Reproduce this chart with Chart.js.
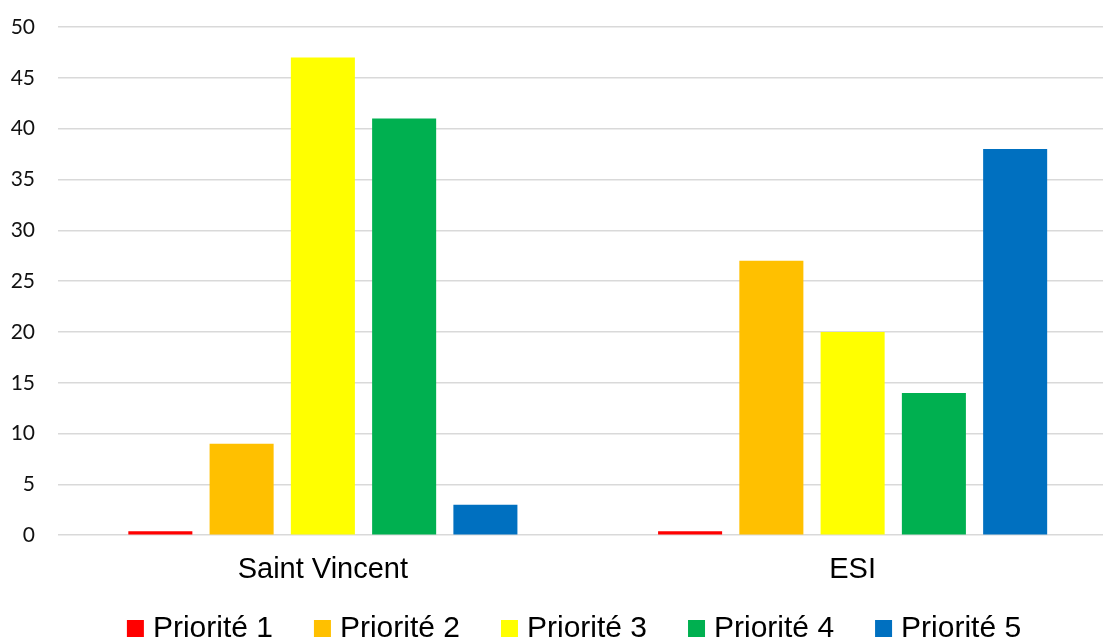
<!DOCTYPE html>
<html>
<head>
<meta charset="utf-8">
<script src="https://cdn.jsdelivr.net/npm/chart.js@4/dist/chart.umd.min.js"></script>
<style>
  html, body { margin: 0; padding: 0; background: #fff; overflow: hidden; }
  #wrap { position: relative; width: 1150px; height: 639px; }
</style>
</head>
<body>
<div id="wrap"><canvas id="chart"></canvas></div>
<script>
// Categories and series
const categories = ['Saint Vincent', 'ESI'];
const seriesNames = ['Priorité 1', 'Priorité 2', 'Priorité 3', 'Priorité 4', 'Priorité 5'];
const priorite1 = [0.4, 0.4];
const priorite2 = [9, 27];
const priorite3 = [47, 20];
const priorite4 = [41, 14];
const priorite5 = [3, 38];
const seriesColors = ['#FF0000', '#FFC000', '#FFFF00', '#00B050', '#0070C0'];
const yTicks = [0, 5, 10, 15, 20, 25, 30, 35, 40, 45, 50];

const seriesValues = [priorite1, priorite2, priorite3, priorite4, priorite5];

// Legend drawn on the canvas below the axis labels
const bottomLegend = {
  id: 'bottomLegend',
  afterDraw(chart) {
    const ctx = chart.ctx;
    const box = 17, gap = 9, spacing = 41;
    ctx.save();
    ctx.font = '30px "Liberation Sans", Arial, sans-serif';
    const items = chart.data.datasets.map(ds => ({
      label: ds.label,
      color: ds.backgroundColor,
      w: box + gap + ctx.measureText(ds.label).width
    }));
    const total = items.reduce((s, it) => s + it.w, 0) + spacing * (items.length - 1);
    let x = (chart.width - total) / 2 - 1;
    const baseY = 637;
    items.forEach(it => {
      ctx.fillStyle = it.color;
      ctx.fillRect(x, baseY - box, box, box);
      ctx.fillStyle = '#000';
      ctx.textBaseline = 'alphabetic';
      ctx.textAlign = 'left';
      ctx.fillText(it.label, x + box + gap, baseY);
      x += it.w + spacing;
    });
    ctx.restore();
  }
};

new Chart(document.getElementById('chart'), {
  type: 'bar',
  data: {
    labels: categories,
    datasets: seriesNames.map((name, i) => ({
      label: name,
      data: seriesValues[i],
      backgroundColor: seriesColors[i],
      borderWidth: 0,
      categoryPercentage: 0.767,
      barPercentage: 0.788
    }))
  },
  options: {
    responsive: true,
    maintainAspectRatio: false,
    animation: false,
    layout: { padding: { top: 27, right: 32.5, bottom: 35, left: 0 } },
    plugins: {
      legend: { display: false },
      tooltip: { enabled: false }
    },
    scales: {
      x: {
        grid: { display: false, drawTicks: false },
        border: { display: false },
        ticks: {
          padding: 17,
          color: '#000',
          font: { family: '"Liberation Sans", Arial, sans-serif', size: 29 }
        }
      },
      y: {
        min: 0,
        max: 50,
        afterFit(scale) {
          scale.width = 58;
          scale.paddingTop = 0;
          scale.paddingBottom = 0;
        },
        afterBuildTicks(scale) { scale.ticks = yTicks.map(v => ({ value: v })); },
        grid: { color: '#d9d9d9', lineWidth: 1.5, drawTicks: false },
        border: { display: false },
        ticks: {
          padding: 23,
          color: '#111',
          font: { family: 'Lato, "Open Sans", sans-serif', size: 21 }
        }
      }
    }
  },
  plugins: [bottomLegend]
});
</script>
</body>
</html>
